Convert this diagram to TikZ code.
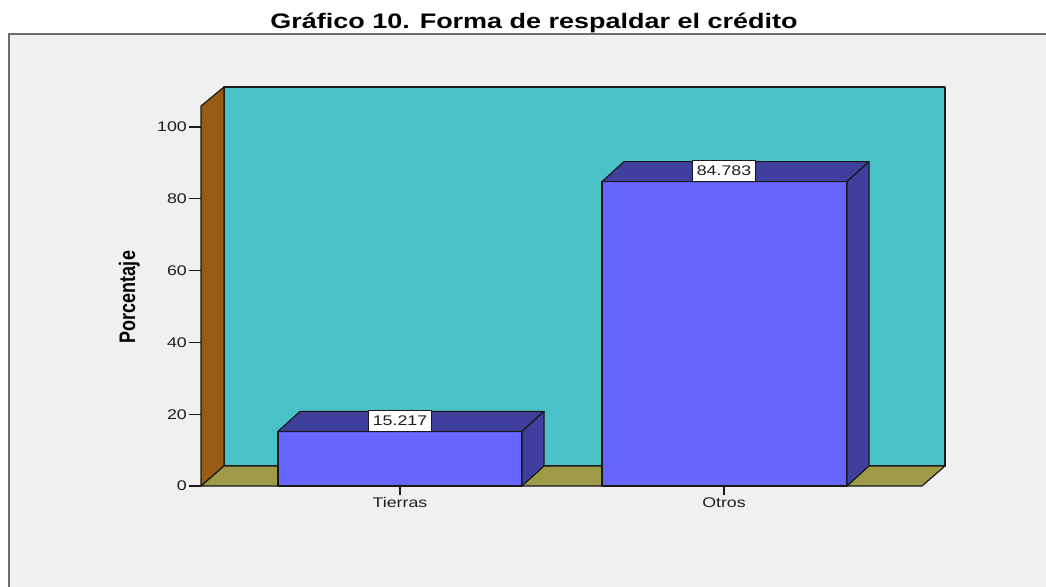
\documentclass[tikz,border=0pt]{standalone}
\usepackage{fontspec}
\setmainfont{Liberation Sans}
\definecolor{framebg}{RGB}{240,240,240}
\definecolor{framel}{RGB}{110,110,110}
\definecolor{wallback}{RGB}{72,194,198}
\definecolor{wallleft}{RGB}{152,91,20}
\definecolor{floorc}{RGB}{158,154,72}
\definecolor{barfront}{RGB}{102,102,255}
\definecolor{barside}{RGB}{63,63,158}
\definecolor{ink}{RGB}{25,25,25}
\definecolor{txt}{RGB}{30,30,30}
\tikzset{
  outline/.style={draw=ink, line width=1.2pt, line join=round},
  ticklab/.style={font=\fontsize{14}{14}\selectfont, text=txt, inner sep=0pt},
  valbox/.style={draw=ink, fill=white, line width=0.8pt, font=\fontsize{14}{14}\selectfont, text=txt, inner xsep=4pt, inner ysep=0pt, minimum height=21pt},
}
\newcommand{\hs}[1]{\scalebox{1.27}[1]{#1}}
\begin{document}
\begin{tikzpicture}[x=1pt,y=-1pt]
\useasboundingbox (0,0) rectangle (1046,586);
\fill[white] (0,0) rectangle (1046,586);
% frame
\fill[framebg] (9,34) rectangle (1050,590);
\draw[framel, line width=1.2pt] (9,590) -- (9,34) -- (1050,34);
% title
\node[anchor=base, font=\fontsize{21}{21}\selectfont\bfseries, inner sep=0pt] (title) at (534,29) {\scalebox{1.285}[1]{Gráfico 10. Forma de respaldar el crédito}};
% back wall
\filldraw[outline, fill=wallback] (224,87) rectangle (945,466);
% left wall
\filldraw[outline, fill=wallleft] (201,486) -- (201,106) -- (224,87) -- (224,466) -- cycle;
% floor
\filldraw[outline, fill=floorc] (201,486) -- (922,486) -- (945,466) -- (224,466) -- cycle;
% y ticks
\foreach \v in {0,20,40,60,80,100}{
  \pgfmathsetmacro{\yy}{486-3.59*\v}
  \draw[ink, line width=1.2pt] (189,\yy) -- (201,\yy);
  \node[ticklab, anchor=east] (t\v) at (187,\yy) {\hs{\v}};
}
% bar Tierras
\filldraw[outline, fill=barfront] (278,486) rectangle (522,431.4);
\filldraw[outline, fill=barside] (278,431.4) -- (522,431.4) -- (544,411.4) -- (300,411.4) -- cycle;
\filldraw[outline, fill=barside] (522,486) -- (544,466) -- (544,411.4) -- (522,431.4) -- cycle;
% bar Otros
\filldraw[outline, fill=barfront] (602,486) rectangle (847,181.6);
\filldraw[outline, fill=barside] (602,181.6) -- (847,181.6) -- (869,161.6) -- (624,161.6) -- cycle;
\filldraw[outline, fill=barside] (847,486) -- (869,466) -- (869,161.6) -- (847,181.6) -- cycle;
% value labels
\node[valbox, anchor=south] (v1) at (400,431.4) {\hs{15.217}};
\node[valbox, anchor=south] (v2) at (724,181.6) {\hs{84.783}};
% category ticks & labels
\draw[ink, line width=1.2pt] (400,486) -- (400,495);
\draw[ink, line width=1.2pt] (724,486) -- (724,495);
\node[ticklab, anchor=base] (c1) at (400,507) {\hs{Tierras}};
\node[ticklab, anchor=base] (c2) at (724,507) {\hs{Otros}};
% axis title
\node[rotate=90, font=\fontsize{18}{18}\selectfont\bfseries, inner sep=0pt, anchor=base] (ylab) at (135,297) {\scalebox{1}[1.25]{Porcentaje}};
\end{tikzpicture}
\end{document}
